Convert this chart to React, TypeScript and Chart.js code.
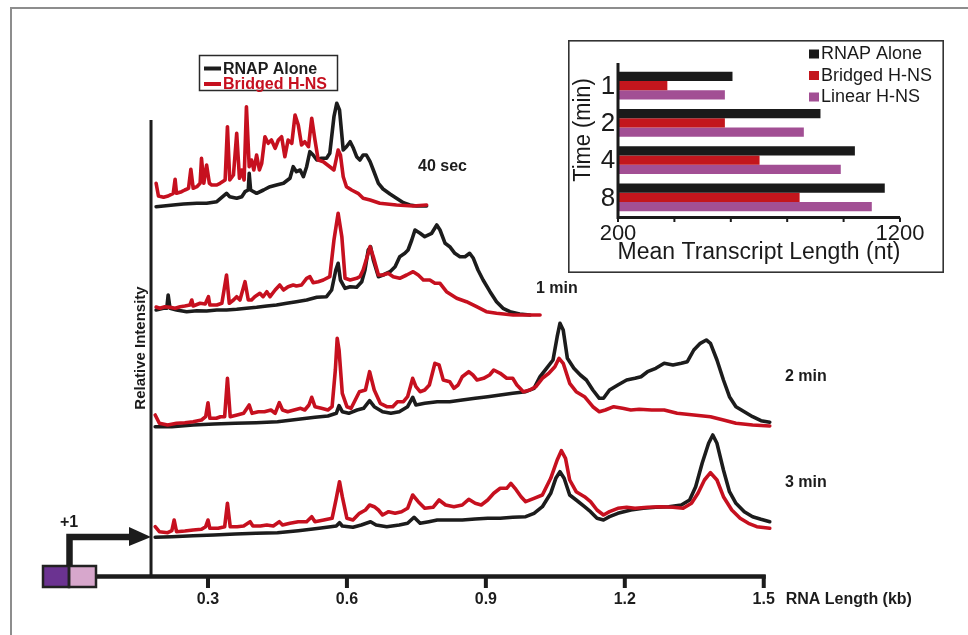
import React, { useEffect, useRef } from 'react';
import { Chart, registerables } from 'chart.js';

Chart.register(...registerables);

const FONT = '"Liberation Sans", Arial, Helvetica, sans-serif';

// ---------- main chart data ----------
const traceLabels = ['40 sec', '1 min', '2 min', '3 min'];
const traceOffsets = [367, 259, 147, 37];
const seriesNames = ['RNAP Alone', 'Bridged H-NS'];
const xTickValues = [0.3, 0.6, 0.9, 1.2, 1.5];
const xAxisTitle = 'RNA Length (kb)';
const yAxisTitle = 'Relative Intensity';
const promoterLabel = '+1';

const alone40s: [number, number][] = [
  [0.188, 1.3], [0.204, 2], [0.225, 3], [0.247, 4], [0.276, 4.7], [0.297, 4.7], [0.319, 6.3], [0.34, 14.7],
  [0.347, 11.3], [0.362, 9.7], [0.373, 11.3], [0.38, 16.3], [0.387, 18], [0.389, 34.7], [0.392, 18], [0.405, 14.7],
  [0.42, 18], [0.434, 21.3], [0.448, 23], [0.463, 24.7], [0.477, 29.7], [0.484, 41.3], [0.491, 36.3], [0.499, 38],
  [0.506, 31.3], [0.513, 41.3], [0.52, 56.3], [0.527, 53], [0.535, 48], [0.545, 49.7], [0.556, 49.7], [0.563, 54.7],
  [0.572, 91.3], [0.578, 104.7], [0.584, 98], [0.592, 58], [0.599, 61.3], [0.607, 66.3], [0.614, 59.7], [0.621, 51.3],
  [0.628, 48], [0.635, 53], [0.642, 53], [0.65, 46.3], [0.657, 38], [0.668, 24.7], [0.678, 19], [0.693, 14],
  [0.707, 9.7], [0.722, 5.3], [0.736, 3], [0.75, 2], [0.772, 2],
];
const bridged40s: [number, number][] = [
  [0.188, 24.7], [0.193, 12], [0.204, 10.7], [0.214, 12], [0.225, 14.7], [0.229, 28.7], [0.232, 14.7], [0.243, 16.3],
  [0.25, 18], [0.258, 19.7], [0.263, 38.7], [0.268, 19.7], [0.276, 21.3], [0.283, 24.7], [0.286, 49.7], [0.291, 24.7],
  [0.297, 43], [0.303, 24.7], [0.308, 23], [0.319, 23], [0.326, 24.7], [0.337, 28], [0.342, 81.3], [0.347, 28],
  [0.355, 33], [0.362, 74.7], [0.368, 29.7], [0.373, 38], [0.378, 28], [0.383, 101.3], [0.389, 41.3], [0.394, 48],
  [0.399, 38], [0.405, 53], [0.411, 38], [0.416, 44.7], [0.423, 71.3], [0.43, 64.7], [0.437, 68], [0.445, 59.7],
  [0.452, 68], [0.459, 71.3], [0.466, 51.3], [0.473, 68], [0.481, 64.7], [0.488, 93], [0.495, 83], [0.502, 63],
  [0.509, 66.3], [0.517, 61.3], [0.524, 89.7], [0.531, 68], [0.538, 48], [0.549, 46.3], [0.563, 41.3], [0.572, 38],
  [0.581, 58], [0.586, 53], [0.592, 31.3], [0.599, 21.3], [0.61, 18], [0.624, 14.7], [0.635, 9.7], [0.65, 8],
  [0.671, 4.7], [0.707, 3], [0.743, 2], [0.772, 3],
];
const alone1m: [number, number][] = [
  [0.188, 6], [0.204, 7.7], [0.211, 7.7], [0.214, 21], [0.218, 7.7], [0.232, 6], [0.254, 4.3], [0.276, 5.3],
  [0.297, 5], [0.319, 6], [0.34, 6], [0.362, 6.7], [0.383, 7.7], [0.405, 8.7], [0.427, 10], [0.448, 11],
  [0.47, 12.7], [0.491, 14.3], [0.513, 16], [0.535, 18.7], [0.556, 19.3], [0.567, 26], [0.576, 46], [0.581, 52.7],
  [0.586, 36], [0.596, 27.7], [0.607, 29.3], [0.621, 28.7], [0.632, 34.3], [0.639, 46], [0.646, 66], [0.651, 69.3],
  [0.657, 56], [0.668, 39.3], [0.678, 41], [0.693, 44.3], [0.704, 49.3], [0.714, 59.3], [0.725, 62.7], [0.732, 66],
  [0.74, 76], [0.747, 86], [0.758, 82.7], [0.768, 79.3], [0.783, 82.7], [0.794, 91], [0.801, 86], [0.812, 72.7],
  [0.822, 69.3], [0.833, 62.7], [0.844, 59.3], [0.855, 59.3], [0.865, 62.7], [0.873, 57.7], [0.883, 46], [0.894, 36],
  [0.909, 24.3], [0.923, 14.3], [0.937, 7.7], [0.952, 4.3], [0.973, 2], [0.995, 1],
];
const bridged1m: [number, number][] = [
  [0.188, 9], [0.196, 7.7], [0.207, 9.3], [0.218, 8.7], [0.229, 7.7], [0.24, 9.3], [0.25, 10], [0.261, 11],
  [0.265, 16], [0.268, 10], [0.283, 12.7], [0.294, 12], [0.301, 19.3], [0.304, 11], [0.319, 11], [0.33, 12.7],
  [0.34, 41], [0.346, 12.7], [0.355, 16], [0.362, 19.3], [0.369, 16], [0.38, 34.3], [0.387, 16], [0.394, 16],
  [0.401, 19.3], [0.412, 22.7], [0.419, 19.3], [0.427, 24.3], [0.434, 19.3], [0.445, 26], [0.455, 31], [0.463, 26],
  [0.473, 29.3], [0.484, 31], [0.491, 30], [0.502, 31], [0.513, 37.7], [0.52, 39.3], [0.527, 33.3], [0.538, 34.3],
  [0.549, 36], [0.563, 39.3], [0.572, 76], [0.581, 102.7], [0.589, 79.3], [0.596, 37.7], [0.607, 36], [0.621, 37.7],
  [0.628, 39.3], [0.635, 46], [0.646, 62.7], [0.65, 69.3], [0.657, 59.3], [0.668, 41], [0.678, 41], [0.689, 42.7],
  [0.7, 39.3], [0.714, 37.7], [0.729, 41], [0.743, 44.3], [0.754, 41], [0.765, 36], [0.779, 36], [0.79, 32.7],
  [0.801, 32.7], [0.815, 24.3], [0.837, 17.7], [0.858, 14.3], [0.88, 9.3], [0.901, 4.3], [0.923, 2.7], [0.959, 1],
  [1.017, 1],
];
const alone2m: [number, number][] = [
  [0.186, 1.3], [0.222, 1.3], [0.268, 3], [0.313, 4], [0.359, 4.7], [0.404, 5.3], [0.45, 6.3], [0.495, 8.7],
  [0.531, 10.7], [0.559, 12], [0.577, 14.7], [0.583, 22.3], [0.59, 16.3], [0.604, 14.7], [0.622, 18], [0.636, 19.7],
  [0.649, 27.3], [0.659, 21.3], [0.677, 16.3], [0.695, 14.7], [0.713, 16.3], [0.731, 21.3], [0.742, 30.7], [0.749, 23],
  [0.768, 24.7], [0.795, 26.3], [0.822, 26.3], [0.849, 28], [0.877, 29.7], [0.904, 31.3], [0.931, 33], [0.958, 34.7],
  [0.986, 36.3], [1.004, 39.7], [1.017, 51.3], [1.031, 59.7], [1.045, 68], [1.054, 91.3], [1.06, 104.7], [1.067, 98],
  [1.076, 69.7], [1.09, 59.7], [1.104, 53], [1.117, 48], [1.131, 38], [1.145, 29.7], [1.154, 29.7], [1.167, 38],
  [1.185, 43], [1.204, 48], [1.222, 49.7], [1.235, 51.3], [1.249, 56.3], [1.267, 59.7], [1.285, 64.7], [1.304, 63],
  [1.322, 64.7], [1.335, 66.3], [1.349, 78], [1.363, 84.7], [1.376, 88], [1.385, 84.7], [1.399, 68], [1.413, 48],
  [1.426, 31.3], [1.44, 21.3], [1.458, 16.3], [1.476, 11.3], [1.494, 7.3], [1.513, 5.7],
];
const bridged2m: [number, number][] = [
  [0.186, 13], [0.195, 4.7], [0.213, 3], [0.232, 4.7], [0.25, 5.3], [0.268, 6.3], [0.286, 8], [0.295, 11.3],
  [0.3, 25.3], [0.304, 9.7], [0.318, 9.7], [0.327, 11.3], [0.336, 11.3], [0.342, 49.7], [0.348, 11.3], [0.363, 13],
  [0.377, 14.7], [0.389, 23], [0.395, 14.7], [0.409, 16.3], [0.422, 16.3], [0.436, 18], [0.445, 14.7], [0.454, 25.3],
  [0.461, 18], [0.472, 16.3], [0.486, 18], [0.5, 19.7], [0.509, 18], [0.518, 23], [0.524, 30.7], [0.531, 21.3],
  [0.545, 19.7], [0.559, 18], [0.568, 21.3], [0.575, 58], [0.579, 89.7], [0.583, 78], [0.59, 34.7], [0.6, 21.3],
  [0.609, 19.7], [0.618, 28], [0.627, 36.3], [0.64, 38], [0.649, 56.3], [0.659, 38], [0.672, 24.7], [0.686, 21.3],
  [0.699, 21.3], [0.709, 26.3], [0.722, 26.3], [0.731, 31.3], [0.742, 49.7], [0.749, 41.3], [0.758, 36.3], [0.768, 38],
  [0.778, 43], [0.79, 64.7], [0.799, 63], [0.808, 48], [0.822, 46.3], [0.831, 39.7], [0.84, 43], [0.849, 51.3],
  [0.863, 56.3], [0.872, 53], [0.881, 48], [0.895, 49.7], [0.908, 53], [0.917, 58], [0.931, 54.7], [0.945, 49.7],
  [0.958, 49.7], [0.967, 43], [0.981, 36.3], [0.995, 38], [1.008, 41.3], [1.022, 49.7], [1.036, 54.7], [1.049, 61.3],
  [1.058, 69.7], [1.067, 64.7], [1.081, 44.7], [1.095, 36.3], [1.113, 31.3], [1.131, 21.3], [1.145, 16.3], [1.158, 18],
  [1.176, 21.3], [1.195, 19.7], [1.213, 18], [1.231, 18.7], [1.258, 18], [1.285, 18], [1.313, 14.7], [1.349, 13],
  [1.385, 11.3], [1.413, 8], [1.44, 4.7], [1.476, 3], [1.513, 2],
];
const alone3m: [number, number][] = [
  [0.186, 0.7], [0.222, 1.3], [0.268, 2.3], [0.313, 3], [0.359, 4], [0.404, 4.7], [0.45, 5.3], [0.495, 7.3],
  [0.54, 9.7], [0.577, 12], [0.584, 15.3], [0.59, 12], [0.613, 10.7], [0.631, 13], [0.651, 16.3], [0.663, 13],
  [0.686, 11.3], [0.713, 13], [0.731, 14.7], [0.745, 20.7], [0.758, 14.7], [0.777, 16.3], [0.795, 18], [0.822, 18],
  [0.849, 18], [0.877, 19], [0.904, 19.7], [0.931, 19.7], [0.958, 20.7], [0.986, 21.3], [1.004, 24.7], [1.022, 31.3],
  [1.04, 44.7], [1.051, 59.7], [1.06, 66.3], [1.069, 59.7], [1.081, 43], [1.095, 38], [1.113, 31.3], [1.126, 26.3],
  [1.14, 19.7], [1.154, 18], [1.167, 21.3], [1.185, 24.7], [1.213, 28], [1.24, 29.7], [1.267, 30.7], [1.295, 31.3],
  [1.322, 33], [1.34, 38], [1.353, 51.3], [1.367, 74.7], [1.381, 94.7], [1.39, 103], [1.399, 94.7], [1.413, 68],
  [1.426, 46.3], [1.44, 34.7], [1.458, 26.3], [1.476, 21.3], [1.494, 18.7], [1.513, 16.3],
];
const bridged3m: [number, number][] = [
  [0.186, 11.3], [0.195, 6.3], [0.213, 5.3], [0.222, 7.3], [0.227, 18], [0.232, 6.3], [0.25, 7], [0.268, 8],
  [0.286, 8.7], [0.295, 11.3], [0.3, 18], [0.304, 9.7], [0.322, 9.7], [0.336, 11.3], [0.342, 34.7], [0.348, 11.3],
  [0.363, 11.3], [0.377, 12], [0.391, 16.3], [0.397, 12], [0.413, 12], [0.427, 13], [0.441, 12], [0.454, 16.3],
  [0.461, 13], [0.477, 14.7], [0.495, 16.3], [0.513, 16.3], [0.524, 21.3], [0.531, 16.3], [0.55, 18], [0.568, 19.7],
  [0.577, 39.7], [0.584, 56.3], [0.59, 41.3], [0.6, 19.7], [0.613, 18], [0.627, 24.7], [0.64, 28], [0.649, 33],
  [0.659, 31.3], [0.668, 28], [0.677, 23], [0.69, 26.3], [0.704, 24.7], [0.718, 26.3], [0.731, 29.7], [0.742, 43],
  [0.754, 36.3], [0.768, 29.7], [0.786, 30.7], [0.799, 38], [0.813, 33], [0.831, 31.3], [0.849, 33], [0.863, 38.7],
  [0.877, 34.7], [0.89, 33], [0.904, 38], [0.917, 44.7], [0.931, 49.7], [0.945, 49.7], [0.954, 54.7], [0.963, 49.7],
  [0.976, 41.3], [0.986, 36.3], [1.004, 39.7], [1.022, 43], [1.04, 59.7], [1.054, 78], [1.063, 87.3], [1.072, 79.7],
  [1.081, 58], [1.095, 46.3], [1.113, 41.3], [1.126, 36.3], [1.14, 28], [1.154, 23], [1.167, 26.3], [1.185, 29.7],
  [1.204, 30.7], [1.222, 29.7], [1.249, 30.7], [1.276, 31.3], [1.304, 30.7], [1.326, 29.7], [1.344, 34.7], [1.358, 44.7],
  [1.372, 58], [1.385, 65.3], [1.399, 58], [1.413, 41.3], [1.431, 28], [1.449, 19.7], [1.467, 14.7], [1.485, 11.3],
  [1.513, 9.7],
];

const aloneTraces = [alone40s, alone1m, alone2m, alone3m];
const bridgedTraces = [bridged40s, bridged1m, bridged2m, bridged3m];

// ---------- inset data ----------
const timeCategories = ['1', '2', '4', '8'];
const insetSeries = ['RNAP Alone', 'Bridged H-NS', 'Linear H-NS'];
const rnapAlone = [606, 918, 1040, 1146];
const bridgedHNS = [375, 579, 702, 844];
const linearHNS = [579, 859, 990, 1100];
const insetTickLabels = [200, 1200];
const insetMinorTicks = [200, 400, 600, 800, 1000, 1200];
const insetXTitle = 'Mean Transcript Length (nt)';
const insetYTitle = 'Time (min)';

const BLACK = '#1c1c1c';
const RED = '#c6101f';
const INSET_COLORS = ['#1a1a1a', '#c3161d', '#a24f94'];

const Y_AXIS_KB = 0.177;

const mainDecor = {
  id: 'mainDecor',
  beforeDatasetsDraw(chart: any) {
    const { ctx } = chart;
    const xs = chart.scales.x;
    const ys = chart.scales.y;
    ctx.save();
    // outer frame
    ctx.strokeStyle = '#8d8d8d';
    ctx.lineWidth = 2;
    ctx.beginPath();
    ctx.moveTo(11, 640);
    ctx.lineTo(11, 8);
    ctx.lineTo(975, 8);
    ctx.stroke();

    const yb = ys.getPixelForValue(0);
    const x0 = xs.getPixelForValue(Y_AXIS_KB);
    // y axis
    ctx.strokeStyle = BLACK;
    ctx.lineWidth = 3;
    ctx.beginPath();
    ctx.moveTo(x0, ys.getPixelForValue(455));
    ctx.lineTo(x0, yb + 2);
    ctx.stroke();
    // x axis
    ctx.lineWidth = 4.5;
    ctx.beginPath();
    ctx.moveTo(95, yb + 1.5);
    ctx.lineTo(xs.getPixelForValue(1.5) + 2, yb + 1.5);
    ctx.stroke();
    ctx.fillStyle = BLACK;
    xTickValues.forEach((v) => {
      const p = xs.getPixelForValue(v);
      ctx.fillRect(p - 2, yb, 4, 13);
    });
    ctx.restore();
  },
  afterDraw(chart: any) {
    const { ctx } = chart;
    const xs = chart.scales.x;
    const ys = chart.scales.y;
    const yb = ys.getPixelForValue(0);
    ctx.save();
    ctx.fillStyle = BLACK;
    ctx.font = `bold 16px ${FONT}`;
    ctx.textAlign = 'center';
    ctx.textBaseline = 'middle';
    xTickValues.forEach((v) => ctx.fillText(v.toFixed(1), xs.getPixelForValue(v), yb + 25));
    ctx.textAlign = 'left';
    ctx.fillText(xAxisTitle, xs.getPixelForValue(1.5) + 22, yb + 25);

    // y title
    ctx.save();
    ctx.font = `bold 15px ${FONT}`;
    ctx.textAlign = 'center';
    ctx.translate(xs.getPixelForValue(Y_AXIS_KB) - 10, 348);
    ctx.rotate(-Math.PI / 2);
    ctx.fillText(yAxisTitle, 0, 0);
    ctx.restore();

    // trace labels
    const labelPos: [number, number][] = [[418, 167], [536, 289], [785, 377], [785, 483]];
    ctx.font = `bold 16px ${FONT}`;
    ctx.textAlign = 'left';
    traceLabels.forEach((t, i) => ctx.fillText(t, labelPos[i][0], labelPos[i][1]));

    // main legend
    ctx.strokeStyle = '#2a2a2a';
    ctx.lineWidth = 1.5;
    ctx.strokeRect(199.5, 55.5, 138, 35);
    const legendColors = [BLACK, RED];
    seriesNames.forEach((n, i) => {
      const y = 68.5 + i * 15.5;
      ctx.strokeStyle = legendColors[i];
      ctx.lineWidth = 4;
      ctx.beginPath();
      ctx.moveTo(204, y);
      ctx.lineTo(221, y);
      ctx.stroke();
      ctx.fillStyle = legendColors[i];
      ctx.fillText(n, 223, y + 1);
    });

    // promoter diagram
    ctx.fillStyle = '#6b3391';
    ctx.fillRect(43, 566, 26, 21);
    ctx.fillStyle = '#d7a7cc';
    ctx.fillRect(69, 566, 27, 21);
    ctx.strokeStyle = '#222';
    ctx.lineWidth = 2.5;
    ctx.strokeRect(43, 566, 26, 21);
    ctx.strokeRect(69, 566, 27, 21);
    ctx.strokeStyle = BLACK;
    ctx.lineWidth = 6.5;
    ctx.lineJoin = 'miter';
    ctx.beginPath();
    ctx.moveTo(69.5, 566);
    ctx.lineTo(69.5, 537);
    ctx.lineTo(133, 537);
    ctx.stroke();
    ctx.fillStyle = BLACK;
    ctx.beginPath();
    ctx.moveTo(129, 527);
    ctx.lineTo(151, 537);
    ctx.lineTo(129, 546);
    ctx.closePath();
    ctx.fill();
    ctx.font = `bold 16px ${FONT}`;
    ctx.textAlign = 'center';
    ctx.fillText(promoterLabel, 69, 523);
    ctx.restore();
  },
};

const insetDecor = {
  id: 'insetDecor',
  beforeDraw(chart: any) {
    const { ctx, width, height } = chart;
    ctx.save();
    ctx.fillStyle = '#ffffff';
    ctx.fillRect(0, 0, width, height);
    ctx.strokeStyle = '#333';
    ctx.lineWidth = 1.6;
    ctx.strokeRect(0.8, 0.8, width - 1.6, height - 1.6);
    ctx.restore();
  },
  afterDatasetsDraw(chart: any) {
    const { ctx, chartArea: a } = chart;
    const xs = chart.scales.x;
    const ys = chart.scales.y;
    const x0 = xs.getPixelForValue(200);
    const x1 = xs.getPixelForValue(1200);
    ctx.save();
    ctx.strokeStyle = '#1a1a1a';
    ctx.lineWidth = 3;
    ctx.beginPath();
    ctx.moveTo(x0, a.top - 4);
    ctx.lineTo(x0, a.bottom + 1.5);
    ctx.lineTo(x1, a.bottom + 1.5);
    ctx.stroke();
    ctx.lineWidth = 2;
    insetMinorTicks.forEach((v) => {
      const p = xs.getPixelForValue(v);
      ctx.beginPath();
      ctx.moveTo(p, a.bottom + 1.5);
      ctx.lineTo(p, a.bottom + 6);
      ctx.stroke();
    });
    ctx.fillStyle = '#1a1a1a';
    ctx.textAlign = 'center';
    ctx.textBaseline = 'middle';
    ctx.font = `22px ${FONT}`;
    insetTickLabels.forEach((v) => ctx.fillText(String(v), xs.getPixelForValue(v), a.bottom + 18));
    ctx.font = `23px ${FONT}`;
    ctx.fillText(insetXTitle, (x0 + x1) / 2, a.bottom + 37);
    ctx.font = `26px ${FONT}`;
    timeCategories.forEach((c, i) => ctx.fillText(c, x0 - 10, ys.getPixelForValue(i) + 1));
    ctx.save();
    ctx.font = `23px ${FONT}`;
    ctx.translate(16, 90);
    ctx.rotate(-Math.PI / 2);
    ctx.scale(0.95, 1);
    ctx.fillText(insetYTitle, 0, 0);
    ctx.restore();
    // legend
    ctx.font = `18px ${FONT}`;
    ctx.textAlign = 'left';
    insetSeries.forEach((n, i) => {
      const y = 13.5 + i * 21.5;
      ctx.fillStyle = INSET_COLORS[i];
      ctx.fillRect(241, y - 4, 10, 9);
      ctx.fillStyle = '#1a1a1a';
      ctx.fillText(n, 253, y + 1);
    });
    ctx.restore();
  },
};

export default function App() {
  const mainRef = useRef<HTMLCanvasElement>(null);
  const insetRef = useRef<HTMLCanvasElement>(null);

  useEffect(() => {
    const datasets: any[] = [];
    bridgedTraces.forEach((tr, i) => {
      datasets.push({
        label: `${seriesNames[1]} ${traceLabels[i]}`,
        data: tr.map(([x, y]) => ({ x, y: y + traceOffsets[i] })),
        borderColor: RED,
        borderWidth: 3.6,
        order: 0,
      });
    });
    aloneTraces.forEach((tr, i) => {
      datasets.push({
        label: `${seriesNames[0]} ${traceLabels[i]}`,
        data: tr.map(([x, y]) => ({ x, y: y + traceOffsets[i] })),
        borderColor: BLACK,
        borderWidth: 3.6,
        order: 1,
      });
    });

    const main = new Chart(mainRef.current as HTMLCanvasElement, {
      type: 'line',
      data: { datasets },
      options: {
        responsive: false,
        animation: false,
        layout: { padding: { left: 32, right: 195, top: 55, bottom: 60 } },
        elements: {
          point: { radius: 0 },
          line: { tension: 0, borderJoinStyle: 'round', borderCapStyle: 'round', fill: false },
        },
        scales: {
          x: { type: 'linear', min: -0.08, max: 1.52, display: false },
          y: { type: 'linear', min: 0, max: 520, display: false },
        },
        plugins: { legend: { display: false }, tooltip: { enabled: false } },
      },
      plugins: [mainDecor],
    } as any);

    const inset = new Chart(insetRef.current as HTMLCanvasElement, {
      type: 'bar',
      data: {
        labels: timeCategories,
        datasets: [rnapAlone, bridgedHNS, linearHNS].map((d, i) => ({
          label: insetSeries[i],
          data: d,
          backgroundColor: INSET_COLORS[i],
          borderWidth: 0,
          base: 200,
          categoryPercentage: 0.75,
          barPercentage: 1.0,
        })),
      },
      options: {
        indexAxis: 'y',
        responsive: false,
        animation: false,
        layout: { padding: { left: 50, right: 44, top: 27, bottom: 57 } },
        scales: {
          x: { type: 'linear', min: 200, max: 1200, display: false },
          y: { display: false },
        },
        plugins: { legend: { display: false }, tooltip: { enabled: false } },
      },
      plugins: [insetDecor],
    } as any);

    return () => {
      main.destroy();
      inset.destroy();
    };
  }, []);

  return (
    <div style={{ position: 'absolute', left: 0, top: 0, width: 968, height: 635, background: '#fff', overflow: 'hidden' }}>
      <canvas ref={mainRef} width={968} height={635} style={{ position: 'absolute', left: 0, top: 0 }} />
      <canvas ref={insetRef} width={376} height={233} style={{ position: 'absolute', left: 568, top: 40 }} />
    </div>
  );
}
